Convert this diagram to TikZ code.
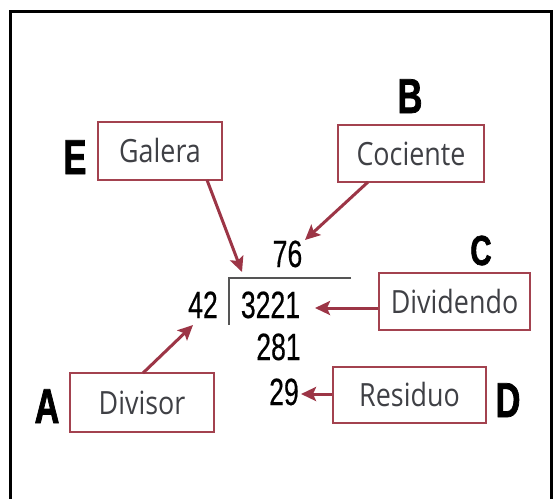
\documentclass[tikz,border=0pt]{standalone}
\usepackage{fontspec}
\usetikzlibrary{arrows.meta}
\newfontfamily\lblfont[FakeStretch=0.84]{Open Sans}
\newfontfamily\numfont[FakeStretch=0.7,FakeBold=0.4]{Liberation Sans}
\newfontfamily\letfont[FakeStretch=0.7,FakeBold=1.5]{Liberation Sans}
\definecolor{boxred}{HTML}{A3424F}
\definecolor{arrred}{HTML}{9C3546}
\definecolor{lbltext}{HTML}{3F4045}
\definecolor{brk}{HTML}{555555}
\tikzset{
  lblbox/.style={draw=boxred, line width=2.5pt, inner sep=0pt, text=lbltext,
    font=\lblfont\fontsize{32}{32}\selectfont, text height=23pt, text depth=0pt},
  numtxt/.style={inner sep=0pt, anchor=base, text=black, font=\numfont\fontsize{38}{38}\selectfont},
  lettxt/.style={inner sep=0pt, anchor=base, text=black, font=\letfont\bfseries\fontsize{49}{49}\selectfont},
  arr/.style={draw=arrred, line width=3pt, -{Stealth[length=15pt,width=14pt,inset=3pt]}}
}
\begin{document}
\begin{tikzpicture}[x=1pt,y=-1pt]
\useasboundingbox (0,0) rectangle (553,498);
\fill[white] (0,0) rectangle (553,498);
% frame
\draw[line width=3pt] (10.5,500) -- (10.5,11.5) -- (551.5,11.5) -- (551.5,500);

% label boxes
\node[lblbox, minimum width=124pt, minimum height=58pt] (gal) at (160,151) {Galera};
\node[lblbox, minimum width=146pt, minimum height=57pt] (coc) at (411,153.5) {Cociente};
\node[lblbox, minimum width=151pt, minimum height=57pt] (dvd) at (454.5,301.5) {Dividendo};
\node[lblbox, minimum width=153pt, minimum height=56pt] (res) at (409.5,395) {Residuo};
\node[lblbox, minimum width=144pt, minimum height=59pt] (dvs) at (142,402.5) {Divisor};

% letters
\node[lettxt] (lE) at (75,174) {E};
\node[lettxt] (lB) at (410,113) {B};
\node[lettxt, font=\letfont\bfseries\fontsize{42}{42}\selectfont] (lC) at (481,265) {C};
\node[lettxt] (lD) at (508,417) {D};
\node[lettxt] (lA) at (47,423) {A};

% numbers
\node[numtxt] (q) at (287.5,267) {76};
\node[numtxt] (dv) at (203,318) {42};
\node[numtxt] (dd) at (270.5,318) {3221};
\node[numtxt] (p) at (278.5,360) {281};
\node[numtxt] (r) at (284,405) {29};

% galera bracket
\coordinate (bt) at (229,278);
\coordinate (br) at (351,278);
\coordinate (bb) at (229,325);
\draw[brk, line width=2pt] (br) -- (bt) -- (bb);

% arrow targets
\coordinate (tgal) at (242,272);
\coordinate (tcoc) at (305,240);
\coordinate (tdvd) at (315,308);
\coordinate (tres) at (301,394);
\coordinate (tdvs) at (193,325);
\coordinate (sgal) at (207,180);
\coordinate (scoc) at (368,182);
\coordinate (sdvs) at (143,373);

\draw[arr] (sgal) -- (tgal);
\draw[arr] (scoc) -- (tcoc);
\draw[arr] (dvd.west |- tdvd) -- (tdvd);
\draw[arr] (res.west |- tres) -- (tres);
\draw[arr] (sdvs) -- (tdvs);
\end{tikzpicture}
\end{document}
